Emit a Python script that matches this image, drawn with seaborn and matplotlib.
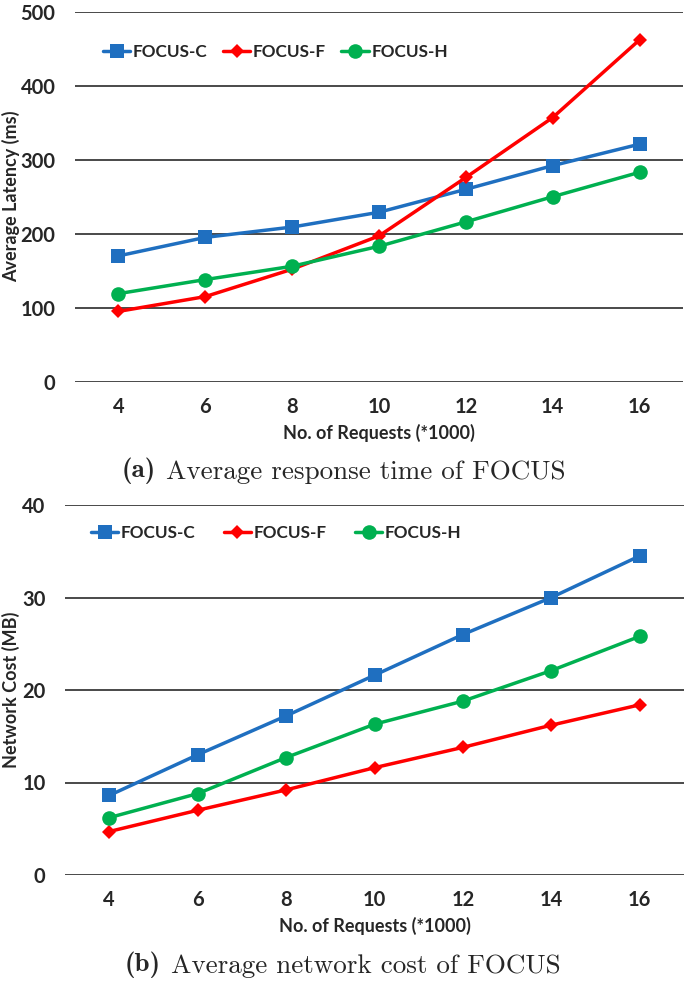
import numpy as np
import pandas as pd
import seaborn as sns
import matplotlib.pyplot as plt

# x axis: number of requests (*1000)
requests = [4, 6, 8, 10, 12, 14, 16]

# (a) average latency in ms
latency_c = [170, 195, 209, 229, 260, 292, 321]
latency_f = [95, 115, 152, 197, 276, 357, 462]
latency_h = [119, 138, 156, 183, 216, 250, 283]

# (b) network cost in MB
cost_c = [8.6, 13.0, 17.2, 21.6, 26.0, 30.0, 34.5]
cost_f = [4.7, 7.0, 9.2, 11.6, 13.8, 16.2, 18.4]
cost_h = [6.2, 8.8, 12.7, 16.3, 18.8, 22.1, 25.8]

series = ["FOCUS-C", "FOCUS-F", "FOCUS-H"]
colors = {"FOCUS-C": "#1f6fc0", "FOCUS-F": "#ff0000", "FOCUS-H": "#00b050"}
markers = {"FOCUS-C": "s", "FOCUS-F": "D", "FOCUS-H": "o"}
msizes = {"FOCUS-C": 10, "FOCUS-F": 7.5, "FOCUS-H": 10.5}

sns.set_style("white")
plt.rcParams['font.family'] = ['Lato', 'DejaVu Sans']

W, H = 685, 983
fig = plt.figure(figsize=(W / 100, H / 100), dpi=100)

def px_axes(left, top, right, bottom):
    return fig.add_axes([left / W, 1 - bottom / H, (right - left) / W, (bottom - top) / H])

def draw(ax, vals, ymax, ystep, ylabel):
    df = pd.DataFrame({
        "x": requests * 3,
        "y": vals[0] + vals[1] + vals[2],
        "series": np.repeat(series, len(requests)),
    })
    for s in series:
        sub = df[df["series"] == s]
        sns.lineplot(data=sub, x="x", y="y", ax=ax, color=colors[s], marker=markers[s],
                     markersize=msizes[s], markeredgewidth=0, linewidth=2.5, label=s)
    ax.set_xlim(3, 17)
    ax.set_ylim(0, ymax)
    ax.set_xticks(requests)
    ax.set_yticks(np.arange(0, ymax + ystep / 2, ystep))
    ax.yaxis.grid(True, color="#3a3a3a", linewidth=1.3)
    ax.xaxis.grid(False)
    for sp in ax.spines.values():
        sp.set_visible(False)
    ax.tick_params(axis="both", length=0, labelsize=14.5)
    ax.tick_params(axis="y", pad=14)
    ax.tick_params(axis="x", pad=11)
    for lab in ax.get_xticklabels() + ax.get_yticklabels():
        lab.set_fontweight("bold")
    ax.set_xlabel("No. of Requests (*1000)", fontsize=13, fontweight="bold", labelpad=5)
    ax.set_ylabel(ylabel, fontsize=13, fontweight="bold")

ax1 = px_axes(75, 11.7, 683, 381.7)
draw(ax1, [latency_c, latency_f, latency_h], 500, 100, "Average Latency (ms)")
ax1.yaxis.set_label_coords(-55 / 608, 0.5)
ax1.legend(loc="upper left", bbox_to_anchor=(21 / 608, 1 - 25 / 370), ncol=3, frameon=False,
           prop={"weight": "bold", "size": 12.3}, handlelength=1.6,
           handletextpad=0.15, columnspacing=0.9, borderaxespad=0)

ax2 = px_axes(65, 505, 684, 875)
draw(ax2, [cost_c, cost_f, cost_h], 40, 10, "Network Cost (MB)")
ax2.yaxis.set_label_coords(-45 / 619, 0.5)
ax2.legend(loc="upper left", bbox_to_anchor=(19 / 619, 1 - 13 / 370), ncol=3, frameon=False,
           prop={"weight": "bold", "size": 12.3}, handlelength=1.6,
           handletextpad=0.15, columnspacing=1.65, borderaxespad=0)

# captions
def caption(x, y, tag, rest):
    t = fig.text(x / W, 1 - y / H, tag, fontfamily="cmb10", fontsize=19.5, va="baseline")
    ax1.annotate(rest, xy=(1, 0), xycoords=t, xytext=(7, 0), textcoords="offset points",
                 fontfamily="cmr10", fontsize=19.5, va="bottom", annotation_clip=False)

caption(122, 477, "(a)", "Average response time of FOCUS")
caption(125, 971, "(b)", "Average network cost of FOCUS")

fig.savefig("out.png", dpi=100)
